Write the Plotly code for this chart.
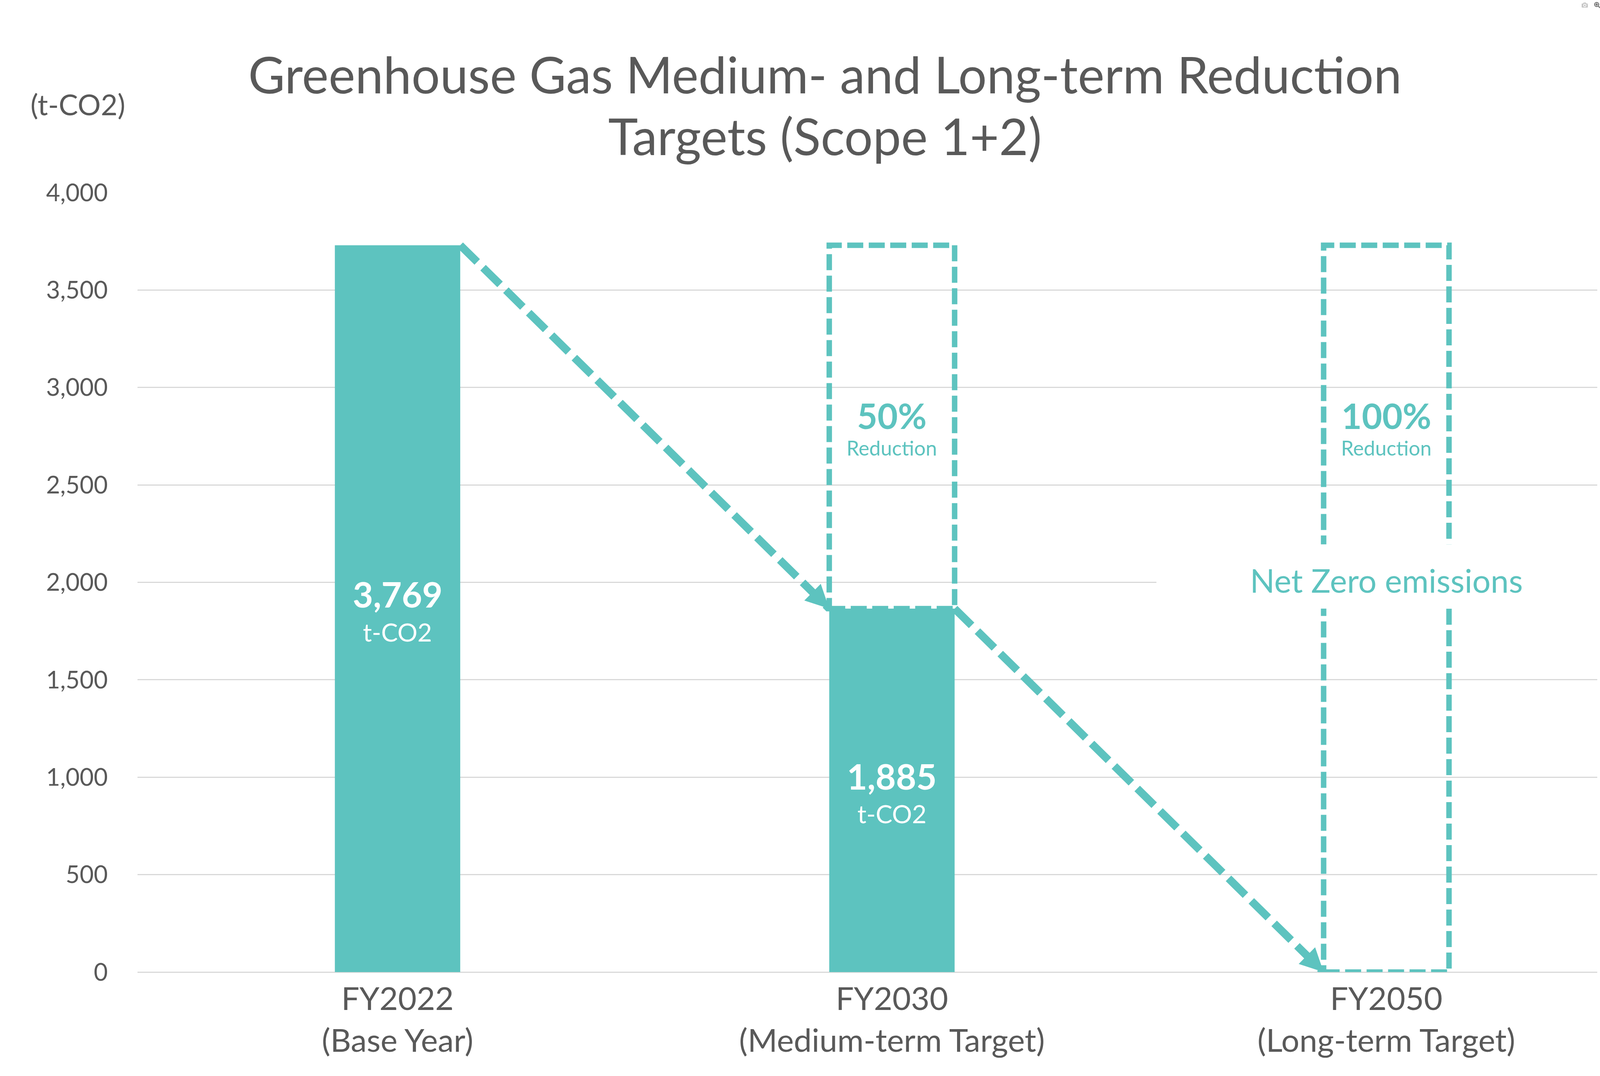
import plotly.graph_objects as go

# ---- data ----
categories = ["FY2022<br>(Base Year)", "FY2030<br>(Medium-term Target)", "FY2050<br>(Long-term Target)"]
bar_values = [3730, 1865, 0]            # drawn bar heights
label_values = ["3,769", "1,885", None]  # printed values
reduction_pct = [None, "50%", "100%"]
unit = "t-CO2"
yticks = [0, 500, 1000, 1500, 2000, 2500, 3000, 3500, 4000]
title_lines = ["Greenhouse Gas Medium- and Long-term Reduction", "Targets (Scope 1+2)"]
net_zero_text = "Net Zero emissions"

TEAL = "#5DC3BF"
GREY = "#595959"
GRID = "#D9D9D9"
FONT = "Lato"
W = 0.2536  # bar width (category units)

xs = list(range(len(categories)))
base = bar_values[0]

fig = go.Figure()
fig.add_trace(go.Bar(x=xs, y=bar_values, width=W, marker=dict(color=TEAL, line=dict(width=0)),
                     hoverinfo="skip", showlegend=False))

# dashed trend lines between bars
seg1_x = [xs[0] + W / 2, xs[1] - W / 2]
seg1_y = [bar_values[0], bar_values[1]]
seg2_x = [xs[1] + W / 2, xs[2] - W / 2]
seg2_y = [bar_values[1], bar_values[2]]
for sx, sy in [(seg1_x, seg1_y), (seg2_x, seg2_y)]:
    fig.add_trace(go.Scatter(x=sx, y=sy, mode="lines",
                             line=dict(color=TEAL, width=20, dash="61px,21px"),
                             hoverinfo="skip", showlegend=False))

shapes = []
# dashed target boxes
for i in (1, 2):
    shapes.append(dict(type="rect", xref="x", yref="y", layer="above",
                       x0=xs[i] - W / 2, x1=xs[i] + W / 2, y0=bar_values[i], y1=base,
                       line=dict(color=TEAL, width=14, dash="41px,14px"),
                       fillcolor="rgba(0,0,0,0)"))
# white backing for the "Net Zero emissions" label
shapes.append(dict(type="rect", xref="x", yref="y", layer="above",
                   x0=1.535, x1=2.4267, y0=1865, y1=2195,
                   line=dict(width=0), fillcolor="white"))

annotations = []
# arrow heads
for sx, sy in [(seg1_x, seg1_y), (seg2_x, seg2_y)]:
    annotations.append(dict(x=sx[1], y=sy[1], ax=sx[0], ay=sy[0], xref="x", yref="y",
                            axref="x", ayref="y", text="", showarrow=True,
                            arrowhead=2, arrowwidth=0.1, arrowsize=120, arrowcolor=TEAL))
# bar value labels
for i, v in enumerate(label_values):
    if v is None:
        continue
    h = bar_values[i]
    annotations.append(dict(x=xs[i], y=h / 2 + 75, xref="x", yref="y", text=f"<b>{v}</b>",
                            showarrow=False, font=dict(family=FONT, size=90, color="white")))
    annotations.append(dict(x=xs[i], y=h / 2 - 120, xref="x", yref="y", text=unit,
                            showarrow=False, font=dict(family=FONT, size=64, color="white")))
# reduction labels
for i, r in enumerate(reduction_pct):
    if r is None:
        continue
    annotations.append(dict(x=xs[i], y=base - 873, xref="x", yref="y", text=f"<b>{r}</b>",
                            showarrow=False, font=dict(family=FONT, size=90, color=TEAL)))
    annotations.append(dict(x=xs[i], y=base - 1040, xref="x", yref="y", text="Reduction",
                            showarrow=False, font=dict(family=FONT, size=52, color=TEAL)))
annotations.append(dict(x=xs[2], y=2012, xref="x", yref="y", text=net_zero_text,
                        showarrow=False, font=dict(family=FONT, size=83, color=TEAL)))
# unit label
annotations.append(dict(x=-0.0409, y=1.1136, xref="paper", yref="paper", text="(t-CO2)",
                        showarrow=False, xanchor="center", yanchor="middle",
                        font=dict(family=FONT, size=74, color=GREY)))
# second title line
annotations.append(dict(x=0.471, y=1.0732, xref="paper", yref="paper", text=title_lines[1],
                        showarrow=False, xanchor="center", yanchor="middle",
                        font=dict(family=FONT, size=129, color=GREY)))

fig.update_layout(
    width=4311, height=2754,
    margin=dict(l=352, r=222, t=493, b=266, pad=0),
    paper_bgcolor="white", plot_bgcolor="white",
    font=dict(family=FONT, color=GREY),
    title=dict(text=title_lines[0],
               x=2112 / 4311, xanchor="center", xref="container",
               y=1 - 193.5 / 2754, yanchor="middle", yref="container",
               font=dict(family=FONT, size=129, color=GREY)),
    shapes=shapes, annotations=annotations, showlegend=False,
    hovermode=False,
)
fig.update_xaxes(range=[-0.526, 2.4267], tickvals=xs, ticktext=categories,
                 showgrid=False, zeroline=False, showline=False, ticks="",
                 tickfont=dict(family=FONT, size=82, color=GREY), ticklabelstandoff=14)
fig.update_yaxes(range=[0, 4000], tickvals=yticks, tickformat=",",
                 showgrid=True, gridcolor=GRID, gridwidth=3,
                 zeroline=True, zerolinecolor=GRID, zerolinewidth=3, showline=False, ticks="",
                 tickfont=dict(family=FONT, size=62, color=GREY), ticklabelstandoff=75)

fig.write_html("out.html", post_script="document.body.style.margin='0';")
